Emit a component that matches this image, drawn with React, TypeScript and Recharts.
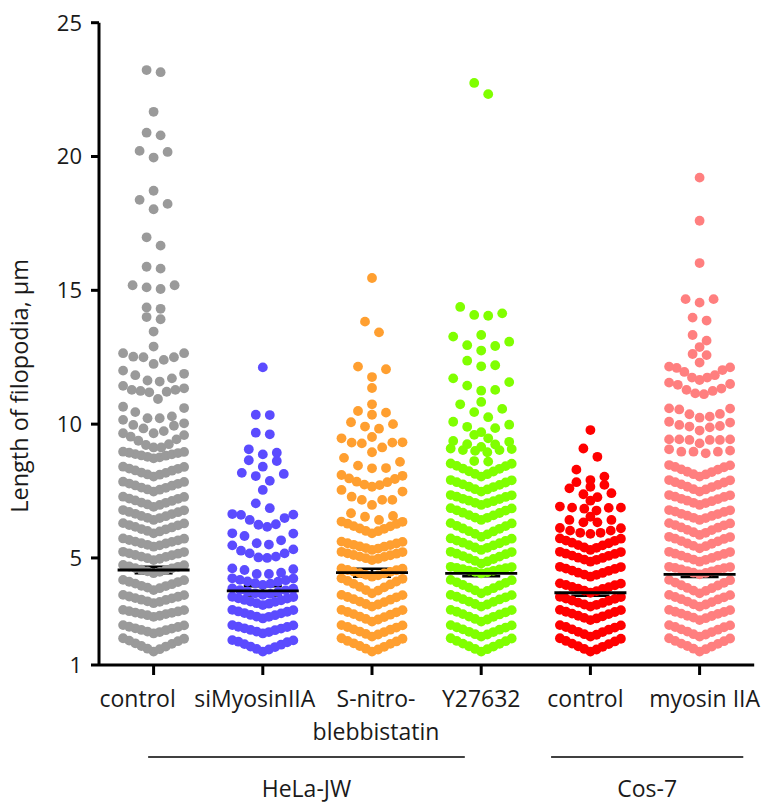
import React from 'react';
import { ScatterChart, Scatter, XAxis, YAxis, ErrorBar } from 'recharts';

// ---------- data ----------
const categories = ['control', 'siMyosinIIA', 'S-nitro-\nblebbistatin', 'Y27632', 'control', 'myosin IIA'];
const yTicks = [1, 5, 10, 15, 20, 25];
const meanValues = [4.55, 3.77, 4.45, 4.42, 3.7, 4.39];
const semValues = [0.12, 0.17, 0.15, 0.1, 0.11, 0.1];
const cellLines = ['HeLa-JW', 'Cos-7'];
const cellLineSpans = [[-0.05, 2.85], [3.64, 5.4]];

// each inner array = one swarm row (values in µm)
const controlHeLaRows = [
  [1.5, 1.59, 1.61, 1.69, 1.71, 1.79, 1.81, 1.89, 1.91, 1.98, 2.0],
  [2.18, 2.23, 2.25, 2.3, 2.31, 2.36, 2.37, 2.42, 2.43, 2.48, 2.49],
  [2.8, 2.84, 2.86, 2.9, 2.91, 2.95, 2.96, 3.0, 3.01, 3.05, 3.06],
  [3.31, 3.36, 3.38, 3.43, 3.44, 3.49, 3.5, 3.55, 3.56, 3.61, 3.62],
  [3.8, 3.87, 3.89, 3.95, 3.96, 4.02, 4.04, 4.1, 4.11, 4.17, 4.18],
  [4.43, 4.48, 4.5, 4.55, 4.56, 4.61, 4.62, 4.67, 4.68, 4.73, 4.74],
  [4.92, 4.97, 4.99, 5.04, 5.05, 5.1, 5.11, 5.16, 5.17, 5.22, 5.23],
  [5.42, 5.47, 5.49, 5.54, 5.55, 5.6, 5.61, 5.66, 5.67, 5.72, 5.73],
  [5.92, 5.99, 6.01, 6.07, 6.08, 6.14, 6.16, 6.22, 6.23, 6.29, 6.3],
  [6.42, 6.49, 6.5, 6.56, 6.57, 6.64, 6.65, 6.71, 6.72, 6.78, 6.79],
  [6.91, 6.98, 7.0, 7.06, 7.07, 7.13, 7.15, 7.21, 7.22, 7.28, 7.29],
  [7.48, 7.55, 7.56, 7.62, 7.63, 7.7, 7.71, 7.77, 7.78, 7.84, 7.85],
  [8.04, 8.11, 8.12, 8.18, 8.19, 8.26, 8.27, 8.33, 8.34, 8.4, 8.41],
  [8.72, 8.76, 8.78, 8.82, 8.83, 8.87, 8.88, 8.92, 8.93, 8.96, 8.97],
  [9.13, 9.13, 9.22, 9.25, 9.38, 9.43, 9.53, 9.59, 9.66],
  [9.66, 9.74, 9.84, 9.94, 9.97, 10.03, 10.16],
  [10.22, 10.22, 10.29, 10.45, 10.6, 10.65],
  [10.94, 11.19, 11.21, 11.24, 11.28, 11.28, 11.34, 11.43],
  [11.59, 11.63, 11.71, 11.83, 11.88, 12.0],
  [12.25, 12.4, 12.5, 12.5, 12.52, 12.65, 12.65],
  [12.9], [13.46], [13.92, 14.0], [14.31, 14.36], [15.05, 15.11, 15.19, 15.19],
  [15.81, 15.88], [16.67, 16.98], [18.03, 18.23, 18.38], [18.72],
  [19.96, 20.17, 20.21], [20.79, 20.89], [21.67], [23.15, 23.23],
];

const siMyosinRows = [
  [1.5, 1.58, 1.6, 1.67, 1.69, 1.76, 1.78, 1.85, 1.87, 1.92, 1.93],
  [2.18, 2.23, 2.25, 2.3, 2.31, 2.36, 2.37, 2.42, 2.43, 2.48, 2.49],
  [2.74, 2.8, 2.81, 2.86, 2.87, 2.93, 2.94, 2.99, 3.0, 3.05, 3.06],
  [3.24, 3.29, 3.31, 3.36, 3.37, 3.42, 3.43, 3.48, 3.49, 3.54, 3.55],
  [3.62, 3.66, 3.68, 3.73, 3.74, 3.79, 3.8, 3.85, 3.86],
  [3.99, 4.04, 4.06, 4.11, 4.12, 4.17, 4.18, 4.23, 4.24],
  [4.4, 4.4, 4.45, 4.55, 4.58, 4.61],
  [5.0, 5.02, 5.05, 5.17, 5.17, 5.27, 5.32, 5.47],
  [5.5, 5.55, 5.66, 5.82, 5.91, 5.92],
  [6.16, 6.24, 6.26, 6.42, 6.49, 6.61, 6.62, 6.64],
  [6.86, 7.04], [7.54], [7.88, 8.06, 8.14, 8.18], [8.41, 8.62, 8.65],
  [8.87, 8.93, 9.06], [9.62, 9.68], [10.34, 10.35], [12.12],
];

const blebbistatinRows = [
  [1.5, 1.58, 1.61, 1.68, 1.71, 1.79, 1.81, 1.88, 1.9, 1.98, 2.0],
  [2.06, 2.14, 2.16, 2.23, 2.25, 2.32, 2.33, 2.4, 2.42, 2.48, 2.49],
  [2.62, 2.7, 2.72, 2.79, 2.81, 2.88, 2.9, 2.97, 2.98, 3.05, 3.06],
  [3.18, 3.26, 3.28, 3.35, 3.37, 3.44, 3.46, 3.53, 3.54, 3.61, 3.62],
  [3.68, 3.78, 3.8, 3.9, 3.92, 4.01, 4.03, 4.12, 4.14, 4.22, 4.24],
  [4.3, 4.35, 4.37, 4.42, 4.43, 4.48, 4.49, 4.54, 4.55, 4.6, 4.61],
  [4.92, 4.97, 4.99, 5.04, 5.05, 5.1, 5.11, 5.16, 5.17, 5.22, 5.23],
  [5.3, 5.35, 5.37, 5.42, 5.43, 5.48, 5.49, 5.54, 5.55, 5.6, 5.61],
  [5.92, 6.0, 6.01, 6.09, 6.1, 6.18, 6.19, 6.27, 6.28, 6.35, 6.36],
  [6.42, 6.54, 6.57, 6.67],
  [6.98, 7.17, 7.17, 7.17, 7.29, 7.48, 7.54],
  [7.66, 7.72, 7.74, 7.83, 7.85, 7.95, 7.97, 8.07, 8.1],
  [8.35, 8.36, 8.45, 8.59, 8.74],
  [8.95, 9.13, 9.28, 9.31, 9.31, 9.32, 9.47],
  [9.52], [9.83, 9.91, 10.0, 10.07], [10.35, 10.43, 10.49], [10.74], [11.35],
  [11.76, 12.05, 12.15], [13.43, 13.83], [15.46],
];

const y27632Rows = [
  [1.5, 1.59, 1.6, 1.69, 1.7, 1.79, 1.8, 1.89, 1.9, 1.99, 2.0],
  [2.06, 2.14, 2.15, 2.23, 2.24, 2.32, 2.33, 2.4, 2.41, 2.48, 2.49],
  [2.62, 2.7, 2.72, 2.8, 2.81, 2.89, 2.9, 2.97, 2.99, 3.05, 3.06],
  [3.18, 3.26, 3.28, 3.36, 3.37, 3.45, 3.46, 3.53, 3.55, 3.61, 3.62],
  [3.68, 3.77, 3.79, 3.87, 3.89, 3.97, 3.99, 4.07, 4.09, 4.17, 4.18],
  [4.42, 4.46, 4.48, 4.52, 4.53, 4.57, 4.58, 4.62, 4.63, 4.66, 4.67],
  [4.79, 4.87, 4.89, 4.96, 4.98, 5.05, 5.07, 5.14, 5.16, 5.22, 5.23],
  [5.3, 5.38, 5.39, 5.47, 5.48, 5.55, 5.57, 5.64, 5.65, 5.72, 5.73],
  [5.79, 5.88, 5.9, 5.99, 6.0, 6.09, 6.1, 6.19, 6.2, 6.29, 6.3],
  [6.42, 6.5, 6.51, 6.59, 6.6, 6.68, 6.69, 6.77, 6.78, 6.85, 6.86],
  [6.98, 7.05, 7.06, 7.12, 7.14, 7.2, 7.21, 7.28, 7.29, 7.34, 7.35],
  [7.48, 7.56, 7.57, 7.65, 7.66, 7.73, 7.75, 7.82, 7.83, 7.9, 7.91],
  [8.04, 8.13, 8.14, 8.23, 8.24, 8.33, 8.34, 8.43, 8.44, 8.52, 8.53],
  [8.6, 8.62],
  [8.95, 9.0, 9.03, 9.03, 9.07, 9.09],
  [9.15, 9.24, 9.25, 9.34, 9.37],
  [9.47, 9.6],
  [9.7, 9.85, 9.9, 9.98, 10.09],
  [10.26, 10.45, 10.57, 10.74],
  [10.83],
  [11.25, 11.28, 11.44, 11.57, 11.71],
  [12.16, 12.2, 12.37],
  [12.75, 12.92, 12.95, 13.08, 13.27],
  [13.33],
  [14.05, 14.08, 14.14, 14.38],
  [22.33, 22.75],
];

const controlCosRows = [
  [1.5, 1.58, 1.6, 1.68, 1.7, 1.78, 1.8, 1.88, 1.9, 1.98, 2.0],
  [2.06, 2.13, 2.15, 2.23, 2.24, 2.32, 2.33, 2.4, 2.42, 2.48, 2.49],
  [2.68, 2.74, 2.76, 2.82, 2.84, 2.9, 2.92, 2.98, 2.99, 3.05, 3.06],
  [3.18, 3.25, 3.26, 3.32, 3.33, 3.4, 3.41, 3.47, 3.48, 3.54, 3.55],
  [3.7, 3.76, 3.78, 3.84, 3.85, 3.91, 3.92, 3.98, 3.99, 4.04, 4.05],
  [4.3, 4.37, 4.38, 4.44, 4.45, 4.52, 4.53, 4.59, 4.6, 4.66, 4.67],
  [4.86, 4.93, 4.94, 5.0, 5.01, 5.08, 5.09, 5.15, 5.16, 5.22, 5.23],
  [5.3, 5.38, 5.39, 5.47, 5.48, 5.55, 5.57, 5.64, 5.65, 5.72, 5.73],
  [5.9, 5.94, 5.94, 6.02, 6.02, 6.11, 6.12],
  [6.33, 6.33, 6.42, 6.42],
  [6.54],
  [6.77, 6.84, 6.87, 6.88, 6.88, 6.92],
  [7.14],
  [7.27, 7.38, 7.42, 7.6],
  [7.66, 7.73, 7.83],
  [7.91, 8.04, 8.3],
  [8.78, 9.09],
  [9.78],
];

const myosinIIARows = [
  [1.5, 1.59, 1.61, 1.69, 1.71, 1.79, 1.8, 1.89, 1.9, 1.99, 2.0],
  [2.06, 2.14, 2.15, 2.23, 2.25, 2.32, 2.33, 2.41, 2.42, 2.48, 2.49],
  [2.68, 2.75, 2.77, 2.83, 2.84, 2.91, 2.92, 2.98, 2.99, 3.05, 3.06],
  [3.18, 3.26, 3.27, 3.35, 3.37, 3.45, 3.46, 3.53, 3.54, 3.61, 3.62],
  [3.68, 3.77, 3.78, 3.87, 3.88, 3.97, 3.98, 4.07, 4.08, 4.17, 4.18],
  [4.39, 4.44, 4.45, 4.5, 4.51, 4.56, 4.57, 4.62, 4.63, 4.66, 4.67],
  [4.86, 4.93, 4.94, 5.0, 5.01, 5.08, 5.09, 5.15, 5.16, 5.22, 5.23],
  [5.36, 5.44, 5.45, 5.53, 5.54, 5.62, 5.63, 5.71, 5.72, 5.78, 5.79],
  [5.86, 5.94, 5.96, 6.04, 6.05, 6.13, 6.14, 6.22, 6.23, 6.29, 6.3],
  [6.42, 6.49, 6.5, 6.57, 6.58, 6.64, 6.65, 6.72, 6.73, 6.78, 6.79],
  [6.98, 7.05, 7.06, 7.12, 7.14, 7.2, 7.21, 7.28, 7.29, 7.34, 7.35],
  [7.48, 7.56, 7.57, 7.65, 7.66, 7.73, 7.75, 7.82, 7.83, 7.9, 7.91],
  [8.04, 8.12, 8.13, 8.21, 8.22, 8.3, 8.31, 8.39, 8.4, 8.46, 8.47],
  [8.91, 8.97, 8.97, 8.97, 9.01, 9.06],
  [9.28, 9.41, 9.41, 9.41, 9.43, 9.43, 9.43],
  [9.76, 9.88, 9.91, 9.93, 9.97, 10.06, 10.09],
  [10.24, 10.28, 10.37, 10.38, 10.55, 10.58, 10.59],
  [11.12, 11.15, 11.24, 11.28, 11.33, 11.47, 11.5, 11.55],
  [11.65, 11.74, 11.74, 11.83, 11.95, 12.02, 12.1, 12.12, 12.15],
  [12.3], [12.58, 12.62], [12.88], [13.12, 13.33], [13.87, 13.98],
  [14.54, 14.67, 14.67], [16.02], [17.6], [19.21],
];

const groupRows = [controlHeLaRows, siMyosinRows, blebbistatinRows, y27632Rows, controlCosRows, myosinIIARows];

// ---------- styles / layout ----------
const COLORS = ['#9a9a9a', '#5b4bff', '#ff9f30', '#80ff00', '#ff0000', '#ff7f7f'];
const LABEL_SHIFT = [-16, -8, 4, 0, -5, 5]; // horizontal nudge of each category label (px)
const FONT = "'Open Sans', 'Noto Sans', sans-serif";
const TEXT = '#1a1a1a';
const DOT_R = 4.9;
const MAX_GAP = 14;
const ROW_SPAN = 61;
const X_DOMAIN = [-0.5, 5.5];

// beeswarm row layout: sorted values, placed from the centre outwards
function swarm(rows: number[][], gi: number) {
  const pts: { x: number; y: number; dx: number }[] = [];
  rows.forEach((row) => {
    const vals = [...row].sort((a, b) => a - b);
    const n = vals.length;
    const s = n > 1 ? Math.min(MAX_GAP, ROW_SPAN / (n - 1)) : 0;
    vals.forEach((v, k) => {
      let dx = 0;
      if (n % 2 === 1) {
        if (k > 0) dx = (k % 2 === 1 ? 1 : -1) * Math.ceil(k / 2) * s;
      } else {
        dx = (k % 2 === 0 ? 1 : -1) * (Math.floor(k / 2) + 0.5) * s;
      }
      pts.push({ x: gi, y: v, dx });
    });
  });
  return pts;
}

const swarmData = groupRows.map((rows, gi) => swarm(rows, gi));
const meanData = categories.map((_, i) => ({ x: i, y: meanValues[i], sem: semValues[i] }));

const makeDot = (color: string) => (p: any) => (
  <circle cx={p.cx + (p.payload?.dx ?? 0)} cy={p.cy} r={DOT_R} fill={color} stroke="none" />
);

const MeanShape = (p: any) => (
  <line x1={p.cx - 36} x2={p.cx + 36} y1={p.cy} y2={p.cy} stroke="#000" strokeWidth={2.8} />
);

function CategoryTick(props: any) {
  const { x, y, payload } = props;
  const idx = payload.value;
  const lines = String(categories[idx] ?? '').split('\n');
  const cx = x + (LABEL_SHIFT[idx] ?? 0);
  return (
    <text x={cx} y={y} textAnchor="middle" fill={TEXT} fontSize={23} fontFamily={FONT}>
      {lines.map((line, i) => (
        <tspan key={i} x={cx} dy={i === 0 ? 30 : 33}>
          {line}
        </tspan>
      ))}
    </text>
  );
}

function GroupAnnotations(props: any) {
  const vb = props.viewBox || {};
  const { x = 0, y = 0, width = 0 } = vb;
  const toPx = (u: number) => x + ((u - X_DOMAIN[0]) / (X_DOMAIN[1] - X_DOMAIN[0])) * width;
  return (
    <g>
      {cellLines.map((name, i) => {
        const [a, b] = cellLineSpans[i];
        const x1 = toPx(a);
        const x2 = toPx(b);
        return (
          <g key={name}>
            <line x1={x1} x2={x2} y1={y + 92} y2={y + 92} stroke="#000" strokeWidth={1.6} />
            <text x={(x1 + x2) / 2} y={y + 132} textAnchor="middle" fill={TEXT} fontSize={23} fontFamily={FONT}>
              {name}
            </text>
          </g>
        );
      })}
    </g>
  );
}

function YTitle(props: any) {
  const vb = props.viewBox || {};
  const { x = 0, y = 0, height = 0 } = vb;
  const cx = x + 28;
  const cy = y + height / 2 + 42;
  return (
    <text x={cx} y={cy} transform={`rotate(-90, ${cx}, ${cy})`} textAnchor="middle" fill={TEXT} fontSize={23.5} fontFamily={FONT}>
      Length of filopodia, μm
    </text>
  );
}

export default function App() {
  return (
    <div style={{ position: 'absolute', left: 0, top: 0, width: 772, height: 803, background: '#fff' }}>
      <ScatterChart width={772} height={803} margin={{ top: 22.7, right: 17.8, bottom: 0, left: 0 }}>
        <XAxis
          type="number"
          dataKey="x"
          domain={X_DOMAIN}
          allowDataOverflow
          ticks={[0, 1, 2, 3, 4, 5]}
          interval={0}
          height={138}
          tickSize={10}
          axisLine={{ stroke: '#000', strokeWidth: 3 }}
          tickLine={{ stroke: '#000', strokeWidth: 3 }}
          tick={<CategoryTick />}
          label={(p: any) => <GroupAnnotations {...p} />}
        />
        <YAxis
          type="number"
          dataKey="y"
          domain={[1, 25]}
          allowDataOverflow
          ticks={yTicks}
          interval={0}
          width={99}
          tickSize={8}
          tickMargin={9}
          axisLine={{ stroke: '#000', strokeWidth: 3 }}
          tickLine={{ stroke: '#000', strokeWidth: 3 }}
          tick={{ fill: TEXT, fontSize: 22, fontFamily: FONT }}
          label={(p: any) => <YTitle {...p} />}
        />
        {swarmData.map((pts, gi) => (
          <Scatter key={gi} data={pts} fill={COLORS[gi]} shape={makeDot(COLORS[gi])} isAnimationActive={false} />
        ))}
        <Scatter data={meanData} fill="#000" shape={MeanShape} isAnimationActive={false}>
          <ErrorBar dataKey="sem" direction="y" width={19} stroke="#000" strokeWidth={2.5} />
        </Scatter>
      </ScatterChart>
    </div>
  );
}
